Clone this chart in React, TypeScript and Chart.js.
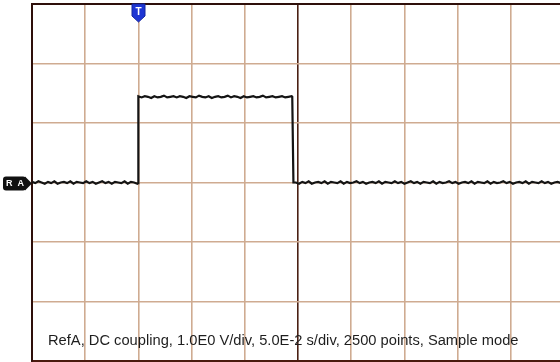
import React, { useEffect, useRef } from "react";
import { Chart, registerables } from "chart.js";

Chart.register(...registerables);

// Reference waveform A: sample interval, level samples and edge samples (volts)
const SAMPLE_DT = 0.003; // s
const LOW_BEFORE = [
  0.01, -0.01, 0.02, 0.0, -0.02, 0.01, -0.01, 0.02, -0.02, 0.0, 0.01, -0.01, 0.02,
  -0.02, 0.01, 0.0, -0.01, 0.02, -0.01, 0.01, -0.02, 0.0, 0.02, -0.01, 0.01, -0.02,
  0.01, 0.0, -0.01, 0.02, -0.02, 0.01, 0.0, -0.02,
];
const HIGH_START = 0.1; // s
const HIGH = [
  1.45, 1.43, 1.45, 1.44, 1.42, 1.45, 1.43, 1.44, 1.46, 1.43, 1.44, 1.45, 1.43, 1.45,
  1.44, 1.42, 1.45, 1.44, 1.43, 1.46, 1.44, 1.43, 1.45, 1.42, 1.44, 1.45, 1.43, 1.44,
  1.46, 1.43, 1.45, 1.44, 1.42, 1.45, 1.43, 1.44, 1.45, 1.43, 1.44, 1.46, 1.43, 1.44,
  1.45, 1.43, 1.44, 1.45, 1.43, 1.44, 1.45,
];
const LOW_AFTER_START = 0.248; // s
const LOW_AFTER = [
  0.0, -0.02, 0.01, -0.01, 0.02, -0.02, 0.0, 0.01, -0.01, 0.02, -0.02, 0.01, 0.0,
  -0.01, 0.02, -0.02, 0.01, -0.01, 0.0, 0.02, -0.01, 0.01, -0.02, 0.0, 0.01, -0.01,
  0.02, -0.02, 0.01, 0.0, -0.01, 0.02, -0.01, 0.01, -0.02, 0.0, 0.02, -0.01, 0.01,
  -0.02, 0.01, 0.0, -0.01, 0.02, -0.02, 0.01, -0.01, 0.0, 0.02, -0.01, 0.01, -0.02,
  0.0, 0.01, -0.01, 0.02, -0.02, 0.01, 0.0, -0.01, 0.02, -0.02, 0.01, -0.01, 0.0,
  0.02, -0.01, 0.01, -0.02, 0.0, 0.01, -0.01, 0.02, -0.02, 0.01, 0.0, -0.01, 0.02,
  -0.01, 0.01, -0.02, 0.0, 0.01, -0.01, 0.02,
];
const EDGE_TIMES = [0.0997, 0.0999, 0.2446, 0.2457];
const EDGE_VOLTS = [-0.01, 1.44, 1.44, 0.0];

const TRIGGER_T = 0.1; // s
const TIME_PER_DIV = 0.05; // s
const VOLTS_PER_DIV = 1;
const X_DIVS = 10;
const Y_DIVS = 6;
const CAPTION =
  "RefA, DC coupling, 1.0E0 V/div, 5.0E-2 s/div, 2500 points, Sample mode";

const GRID_COLOR = "#cfab91";
const CENTER_COLOR = "#4a2014";
const FRAME_COLOR = "#2e0f0a";

function buildTrace() {
  const pts: { x: number; y: number }[] = [];
  LOW_BEFORE.forEach((v, i) => pts.push({ x: i * SAMPLE_DT, y: v }));
  HIGH.forEach((v, i) => pts.push({ x: HIGH_START + i * SAMPLE_DT, y: v }));
  LOW_AFTER.forEach((v, i) => pts.push({ x: LOW_AFTER_START + i * SAMPLE_DT, y: v }));
  EDGE_TIMES.forEach((t, i) => pts.push({ x: t, y: EDGE_VOLTS[i] }));
  pts.sort((a, b) => a.x - b.x);
  return pts;
}

const scopeDecor = {
  id: "scopeDecor",
  afterDraw(chart: any) {
    const { ctx, chartArea, scales } = chart;
    const { left, top, right } = chartArea;
    ctx.save();
    // top frame edge
    ctx.strokeStyle = FRAME_COLOR;
    ctx.lineWidth = 2;
    ctx.beginPath();
    ctx.moveTo(left - 1, top);
    ctx.lineTo(right, top);
    ctx.stroke();

    // reference ground marker "R A"
    const gy = Math.round(scales.y.getPixelForValue(0)) + 0.5;
    ctx.fillStyle = "#111";
    ctx.beginPath();
    ctx.roundRect(3, gy - 7, 23, 14, 3);
    ctx.fill();
    ctx.beginPath();
    ctx.moveTo(25, gy - 7);
    ctx.lineTo(32, gy);
    ctx.lineTo(25, gy + 7);
    ctx.closePath();
    ctx.fill();
    ctx.fillStyle = "#fff";
    ctx.font = "bold 9px 'Liberation Sans', Arial, sans-serif";
    ctx.textAlign = "center";
    ctx.textBaseline = "middle";
    ctx.fillText("R  A", 15, gy + 0.5);

    // trigger position marker
    const tx = Math.round(scales.x.getPixelForValue(TRIGGER_T)) + 0.5;
    ctx.fillStyle = "#1d35d4";
    ctx.strokeStyle = "#1526a0";
    ctx.lineWidth = 1;
    ctx.beginPath();
    ctx.moveTo(tx - 6.5, top);
    ctx.lineTo(tx + 6.5, top);
    ctx.lineTo(tx + 6.5, top + 12);
    ctx.lineTo(tx, top + 18);
    ctx.lineTo(tx - 6.5, top + 12);
    ctx.closePath();
    ctx.fill();
    ctx.stroke();
    ctx.fillStyle = "#fff";
    ctx.font = "bold 10px 'Liberation Sans', Arial, sans-serif";
    ctx.fillText("T", tx, top + 8);

    // acquisition caption
    ctx.fillStyle = "#1e1e1e";
    ctx.font = "14.7px 'Liberation Sans', Arial, sans-serif";
    ctx.textAlign = "left";
    ctx.textBaseline = "alphabetic";
    ctx.fillText(CAPTION, 48, 345);
    ctx.restore();
  },
};

function gridColor(center: number) {
  return (c: any) =>
    c.tick && Math.abs(c.tick.value - center) < 1e-6 ? CENTER_COLOR : GRID_COLOR;
}

export default function App() {
  const ref = useRef<HTMLCanvasElement>(null);
  useEffect(() => {
    if (!ref.current) return;
    const xMax = TIME_PER_DIV * X_DIVS;
    const yMax = (VOLTS_PER_DIV * Y_DIVS) / 2;
    const chart = new Chart(ref.current, {
      type: "line",
      data: {
        datasets: [
          {
            data: buildTrace(),
            borderColor: "#141414",
            borderWidth: 2.2,
            pointRadius: 0,
            tension: 0,
          },
        ],
      },
      options: {
        responsive: false,
        animation: false,
        events: [],
        layout: { padding: { left: 32, top: 4, right: 16, bottom: 1 } },
        plugins: { legend: { display: false }, tooltip: { enabled: false } },
        scales: {
          x: {
            type: "linear",
            min: 0,
            max: xMax,
            ticks: { display: false, stepSize: TIME_PER_DIV },
            grid: { color: gridColor(xMax / 2), lineWidth: 1.6, drawTicks: false },
            border: { display: true, color: "#4a1a0e", width: 3 },
          },
          y: {
            type: "linear",
            min: -yMax,
            max: yMax,
            ticks: { display: false, stepSize: VOLTS_PER_DIV },
            grid: { color: GRID_COLOR, lineWidth: 1.6, drawTicks: false },
            border: { display: true, color: FRAME_COLOR, width: 2 },
          },
        },
      },
      plugins: [scopeDecor],
    });
    return () => chart.destroy();
  }, []);

  return (
    <div
      style={{
        position: "fixed",
        left: 0,
        top: 0,
        width: 560,
        height: 362,
        overflow: "hidden",
        background: "#fff",
      }}
    >
      <canvas ref={ref} width={580} height={362} style={{ display: "block" }} />
    </div>
  );
}
